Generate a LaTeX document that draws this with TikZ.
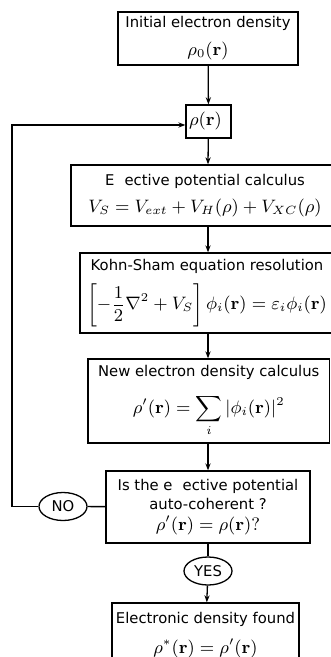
\documentclass[tikz,border=0pt]{standalone}
\usepackage[no-math]{fontspec}
\setsansfont{DejaVu Sans}
\usepackage{amsmath}
\usetikzlibrary{arrows.meta,positioning,shapes.geometric}
\newcommand{\lbl}[1]{{\fontsize{7.4}{9}\sffamily #1}}

\begin{document}
\begin{tikzpicture}[
  x=0.5pt, y=-0.5pt,
  stage/.style={draw, line width=0.65pt, align=center, inner sep=0pt,
    font=\fontsize{9}{13.5}\selectfont},
  answer/.style={draw, ellipse, line width=0.65pt, inner sep=0pt,
    minimum width=24pt, minimum height=14pt, font=\fontsize{7.4}{9}\sffamily},
  arrow/.style={-{Stealth[length=3.5pt,width=2.6pt]}, line width=0.65pt},
]
  \useasboundingbox (0,0) rectangle (331,657);

  \node[stage, minimum width=90pt, minimum height=26.5pt] (init) at (208,38.5) {
    \lbl{Initial electron density}\\[0.5pt]
    $\rho_0(\mathbf{r})$
  };
  \node[stage, minimum width=22.5pt, minimum height=16.5pt] (rho) at (208.5,121.5) {
    $\rho(\mathbf{r})$
  };
  \node[stage, minimum width=134pt, minimum height=30.5pt] (veff) at (205,195.5) {
    \lbl{E\phantom{ff}ective potential calculus}\\
    $V_S = V_{ext} + V_H(\rho) + V_{XC}(\rho)$
  };
  \node[stage, minimum width=127pt, minimum height=40pt] (ks) at (207,293) {
    \lbl{Kohn-Sham equation resolution}\\[4pt]
    $\displaystyle \left[-\frac{1}{2}\nabla^2 + V_S\right]\phi_i(\mathbf{r}) = \varepsilon_i\phi_i(\mathbf{r})$
  };
  \node[stage, minimum width=120.75pt, minimum height=42pt] (newrho) at (208.75,401) {
    \lbl{New electron density calculus}\\[5pt]
    $\displaystyle \rho'(\mathbf{r}) = \sum_i |\phi_i(\mathbf{r})|^2$
  };
  \node[stage, minimum width=102pt, minimum height=36pt,
    font=\fontsize{9}{9.6}\selectfont] (check) at (208,507) {
    \lbl{Is the e\phantom{ff}ective potential}\\
    \lbl{auto-coherent ?}\\[0.5pt]
    $\rho'(\mathbf{r}) = \rho(\mathbf{r})?$
  };
  \node[answer] (no) at (63,506.5) {NO};
  \node[answer] (yes) at (208,571) {YES};
  \node[stage, minimum width=93.5pt, minimum height=32pt] (found) at (205.5,635) {
    \lbl{Electronic density found}\\[1.5pt]
    $\rho^*(\mathbf{r}) = \rho'(\mathbf{r})$
  };

  \coordinate (loop) at (12,125);

  \draw[arrow] (init) -- (rho);
  \draw[arrow] (rho) -- (init |- veff.north);
  \draw[arrow] (init |- veff.south) -- (init |- ks.north);
  \draw[arrow] (init |- ks.south) -- (init |- newrho.north);
  \draw[arrow] (init |- newrho.south) -- (check);
  \draw[line width=0.65pt] (check) -- (yes);
  \draw[arrow] (yes) -- (found);
  \draw[line width=0.65pt] (check) -- (no);
  \draw[arrow] (no) -- (no -| loop) -- (loop) -- (loop -| rho.west);
\end{tikzpicture}
\end{document}
